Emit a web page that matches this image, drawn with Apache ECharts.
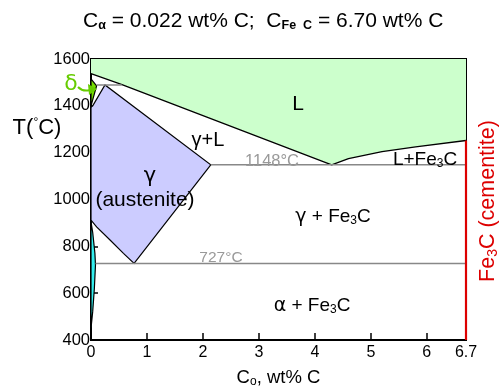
<!DOCTYPE html>
<html>
<head>
<meta charset="utf-8">
<script src="https://cdn.jsdelivr.net/npm/echarts@6/dist/echarts.min.js"></script>
<style>
  html, body { margin: 0; padding: 0; background: #fff; }
  #chart { width: 500px; height: 388px; }
</style>
</head>
<body>
<div id="chart"></div>
<script>
    // Fe-Fe3C phase diagram data (wt% C, deg C)
    const xTicks = [0, 1, 2, 3, 4, 5, 6, 6.7];
    const yTicks = [400, 600, 800, 1000, 1200, 1400, 1600];

    const liquidus = [[0, 1538], [0.53, 1493], [4.3, 1148], [4.6, 1175], [5.2, 1204], [5.8, 1225], [6.7, 1252]];
    const gammaRegion = [[0.03, 1400], [0.25, 1489], [2.14, 1148], [0.77, 727], [0.58, 770], [0.34, 827], [0.1, 883], [0, 912], [0, 1394]];
    const deltaRegion = [[0, 1515], [0.1, 1485], [0, 1400]];
    const alphaRegion = [[0, 905], [0.03, 860], [0.07, 770], [0.08, 720], [0.06, 620], [0.03, 520], [0, 450]];
    const peritectic = [[0.1, 1489], [0.55, 1489]];
    const eutectic = [[2.14, 1148], [6.7, 1148]];
    const eutectoid = [[0.08, 727], [6.7, 727]];
    const cementite = [[6.7, 1252], [6.7, 400]];

    const FONT = '"Liberation Sans", Arial, sans-serif';
    const GREEK = '"DejaVu Sans", sans-serif';

    function region(pts, fill) {
        return {
            type: 'custom',
            silent: true,
            z: 3,
            data: [0],
            renderItem: function (params, api) {
                return {
                    type: 'polygon',
                    shape: { points: pts.map(function (p) { return api.coord(p); }) },
                    style: { fill: fill, stroke: '#000', lineWidth: 1.2 }
                };
            }
        };
    }

    function line(data, color, width, z) {
        return {
            type: 'line',
            data: data,
            symbol: 'none',
            silent: true,
            clip: false,
            z: z || 4,
            lineStyle: { color: color, width: width }
        };
    }

    function txt(x, y, style, opts) {
        return Object.assign({
            type: 'text',
            x: x,
            y: y,
            z: 100,
            style: Object.assign({
                font: '18px ' + FONT,
                fill: '#000',
                align: 'center',
                verticalAlign: 'middle'
            }, style)
        }, opts || {});
    }

    // rich-text part helpers (zrender style: font + fill)
    function part(size, family, extra) {
        return Object.assign({ font: size + 'px ' + (family || FONT) }, extra || {});
    }
    function sub(size, extra) {
        return Object.assign({ font: size + 'px ' + FONT, verticalAlign: 'bottom', padding: [Math.round(size * 0.7), 0, 0, 0] }, extra || {});
    }
    // echarts label-style variant
    function esub(size, extra) {
        return Object.assign({ fontSize: size, fontFamily: FONT, color: '#000', verticalAlign: 'bottom', padding: [Math.round(size * 0.7), 0, 0, 0] }, extra || {});
    }

    let myChart = echarts.init(document.getElementById('chart'));
    myChart.setOption({
        animation: false,
        title: {
            text: '{t|C}{s|α}{t| = 0.022 wt% C;  C}{b|Fe  C}{t| = 6.70 wt% C}',
            left: 78,
            top: 5,
            textStyle: {
                rich: {
                    t: { fontSize: 21, fontFamily: FONT, color: '#000', fontWeight: 'normal' },
                    s: esub(12.5),
                    b: esub(12.5, { fontWeight: 'bold' })
                }
            }
        },
        grid: {
            left: 91, right: 34, top: 59, bottom: 48,
            outerBoundsMode: 'none',
            show: true,
            borderColor: '#000',
            borderWidth: 2
        },
        xAxis: {
            type: 'value',
            min: 0,
            max: 6.7,
            interval: 1,
            name: '{t|C}{s|o}{t|, wt% C}',
            nameLocation: 'middle',
            nameGap: 28,
            nameTextStyle: {
                rich: { t: { fontSize: 18.5, fontFamily: FONT, color: '#000' }, s: esub(12) }
            },
            axisLine: { lineStyle: { color: '#000', width: 2 } },
            axisTick: { inside: true, length: 7, lineStyle: { color: '#000', width: 1.5 } },
            axisLabel: {
                color: '#000', fontSize: 16, fontFamily: FONT, margin: 5,
                formatter: function (v) {
                    const t = xTicks.find(function (k) { return Math.abs(k - v) < 1e-6; });
                    return t === undefined ? '' : String(t);
                }
            },
            splitLine: { show: false }
        },
        yAxis: {
            type: 'value',
            min: yTicks[0],
            max: yTicks[yTicks.length - 1],
            interval: 200,
            axisLine: { show: true, lineStyle: { color: '#000', width: 2 } },
            axisTick: { show: true, inside: true, length: 7, lineStyle: { color: '#000', width: 1.5 } },
            axisLabel: {
                color: '#000', fontSize: 16.5, fontFamily: FONT, margin: 1,
                formatter: function (v) { return String(v); }
            },
            splitLine: { show: false }
        },
        series: [
            {
                type: 'line',
                data: liquidus,
                symbol: 'none',
                silent: true,
                z: 2,
                lineStyle: { color: '#000', width: 1.3 },
                areaStyle: { origin: 'end', color: '#ccffcc', opacity: 1 }
            },
            region(gammaRegion, '#ccccff'),
            region(deltaRegion, '#77dd00'),
            region(alphaRegion, '#33eeee'),
            line(peritectic, '#888', 1.5, 6),
            line(eutectic, '#888', 1.5),
            line(eutectoid, '#888', 1.5),
            line(cementite, '#dd0000', 2.2, 5)
        ],
        graphic: [
            txt(37, 128, {
                text: '{t|T(}{d|°}{t|C)}',
                rich: {
                    t: part(22),
                    d: { font: '12px ' + FONT, verticalAlign: 'top', padding: [0, 0, 10, 0] }
                }
            }),
            txt(298, 104, { text: 'L', font: '21px ' + FONT }),
            txt(208, 140, { text: 'γ+L', font: '20px ' + FONT }),
            txt(272, 161, { text: '1148°C', font: '16.5px ' + FONT, fill: '#999' }),
            txt(221, 258, { text: '727°C', font: '15.5px ' + FONT, fill: '#999' }),
            txt(425, 160, {
                text: '{t|L+Fe}{s|3}{t|C}',
                rich: { t: part(19), s: sub(12) }
            }),
            txt(150, 177, { text: 'γ', font: '21px ' + GREEK }),
            txt(145, 200, { text: '(austenite)', font: '21px ' + FONT }),
            txt(333, 217, {
                text: '{g|γ}{t| + Fe}{s|3}{t|C}',
                rich: { t: part(19), g: part(19, GREEK), s: sub(12) }
            }),
            txt(312, 306, {
                text: '{g|α}{t| + Fe}{s|3}{t|C}',
                rich: { t: part(19), g: part(19, GREEK), s: sub(12) }
            }),
            txt(488, 201, {
                text: '{t|Fe}{s|3}{t|C (cementite)}',
                fill: '#dd0000',
                rich: {
                    t: part(21.5, FONT, { fill: '#dd0000' }),
                    s: sub(14, { fill: '#dd0000' })
                }
            }, { rotation: Math.PI / 2 }),
            txt(71, 84, { text: 'δ', font: '22px ' + GREEK, fill: '#66cc00' }),
            {
                type: 'bezierCurve',
                z: 100,
                shape: { x1: 78, y1: 87, x2: 90, y2: 90, cpx1: 83, cpy1: 92 },
                style: { stroke: '#66cc00', lineWidth: 2, fill: null }
            },
            {
                type: 'polygon',
                z: 100,
                shape: { points: [[97, 89], [88, 84], [89, 95]] },
                style: { fill: '#66cc00' }
            }
        ]
    });
</script>
</body>
</html>
